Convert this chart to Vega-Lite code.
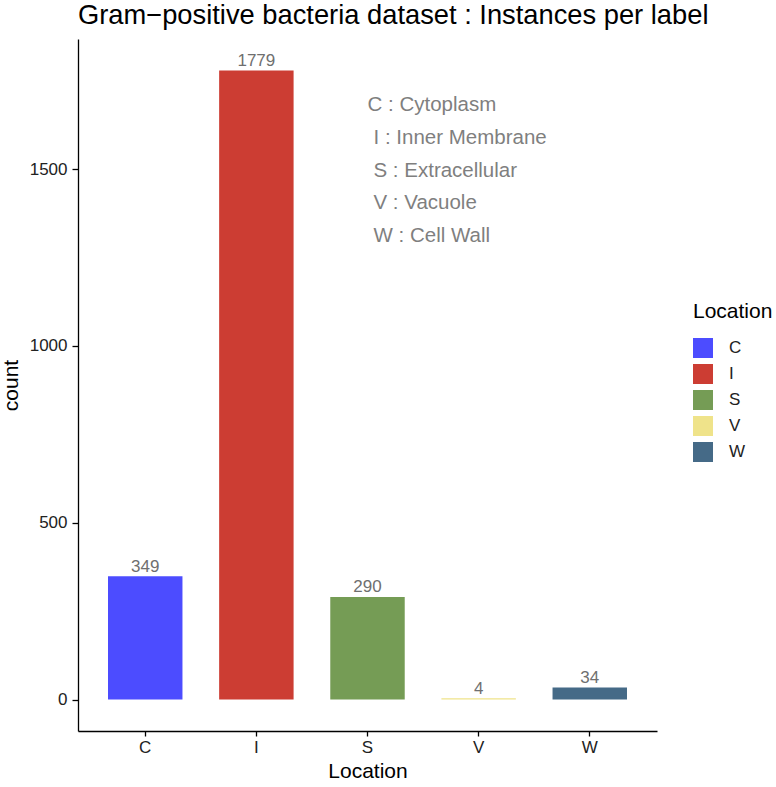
{
  "$schema": "https://vega.github.io/schema/vega-lite/v6.json",
  "width": 579,
  "height": 692,
  "autosize": {"type": "none"},
  "padding": {"left": 78, "top": 39, "right": 119, "bottom": 56},
  "background": "white",
  "config": {"view": {"stroke": null}, "font": "Liberation Sans"},
  "title": {
    "text": "Gram−positive bacteria dataset : Instances per label",
    "anchor": "start",
    "frame": "group",
    "fontSize": 27.3,
    "fontWeight": "normal",
    "color": "black",
    "font": "Liberation Sans",
    "offset": 10
  },
  "datasets": {
    "bars": [
      {"Location": "C", "count": 349},
      {"Location": "I", "count": 1779},
      {"Location": "S", "count": 290},
      {"Location": "V", "count": 4},
      {"Location": "W", "count": 34}
    ],
    "notes": [
      {"Location": "S", "y": 1663, "line": 1, "text": "C : Cytoplasm"},
      {"Location": "S", "y": 1571, "line": 2, "text": "I : Inner Membrane"},
      {"Location": "S", "y": 1478, "line": 3, "text": "S : Extracellular"},
      {"Location": "S", "y": 1386, "line": 4, "text": "V : Vacuole"},
      {"Location": "S", "y": 1294, "line": 5, "text": "W : Cell Wall"}
    ]
  },
  "resolve": {"scale": {"x": "shared", "y": "shared"}},
  "layer": [
    {
      "data": {"name": "bars"},
      "mark": {"type": "bar"},
      "encoding": {
        "x": {
          "field": "Location", "type": "nominal", "title": "Location",
          "scale": {"domain": ["C", "I", "S", "V", "W"], "paddingInner": 0.33, "paddingOuter": 0.27},
          "axis": {"labelAngle": 0, "grid": false, "domainColor": "black", "tickColor": "black", "labelColor": "#222", "labelFontSize": 17, "titleFontSize": 21, "titleColor": "black", "titleFontWeight": "normal", "tickSize": 5, "labelPadding": 3, "titlePadding": 5, "domainWidth": 1.3, "tickWidth": 1.3}
        },
        "y": {
          "field": "count", "type": "quantitative", "title": "count",
          "scale": {"domain": [-88.95, 1867.95], "nice": false, "zero": false},
          "axis": {"values": [0, 500, 1000, 1500], "format": "d", "grid": false, "domainColor": "black", "tickColor": "black", "labelColor": "#222", "labelFontSize": 17, "titleFontSize": 21, "titleColor": "black", "titleFontWeight": "normal", "tickSize": 6, "labelPadding": 5, "titlePadding": 8, "domainWidth": 1.3, "tickWidth": 1.3}
        },
        "color": {
          "field": "Location", "type": "nominal",
          "scale": {"domain": ["C", "I", "S", "V", "W"], "range": ["#4C4CFF", "#CC3D33", "#759C55", "#EFE38A", "#456A87"]},
          "legend": {"orient": "none", "legendX": 615, "legendY": 262, "title": "Location", "titleFontSize": 21, "titleFontWeight": "normal", "titleColor": "black", "labelFontSize": 17, "labelColor": "#222", "symbolType": "square", "symbolSize": 400, "symbolStrokeWidth": 0, "symbolOpacity": 1, "rowPadding": 6, "titlePadding": 16, "labelOffset": 16}
        }
      }
    },
    {
      "data": {"name": "bars"},
      "mark": {"type": "text", "baseline": "alphabetic", "dy": -4.5, "fontSize": 17, "color": "#6f6f6f"},
      "encoding": {
        "x": {"field": "Location", "type": "nominal", "title": "Location"},
        "y": {"field": "count", "type": "quantitative", "title": "count"},
        "text": {"field": "count", "type": "quantitative"}
      }
    },
    {
      "data": {"name": "notes"},
      "transform": [{"filter": "datum.line == 1"}],
      "mark": {"type": "text", "align": "left", "baseline": "alphabetic", "fontSize": 20.5, "color": "#7f7f7f"},
      "encoding": {
        "x": {"field": "Location", "type": "nominal", "title": "Location"},
        "y": {"field": "y", "type": "quantitative", "title": "count"},
        "text": {"field": "text", "type": "nominal"}
      }
    },
    {
      "data": {"name": "notes"},
      "transform": [{"filter": "datum.line > 1"}],
      "mark": {"type": "text", "align": "left", "baseline": "alphabetic", "dx": 6, "fontSize": 20.5, "color": "#7f7f7f"},
      "encoding": {
        "x": {"field": "Location", "type": "nominal", "title": "Location"},
        "y": {"field": "y", "type": "quantitative", "title": "count"},
        "text": {"field": "text", "type": "nominal"}
      }
    }
  ]
}
